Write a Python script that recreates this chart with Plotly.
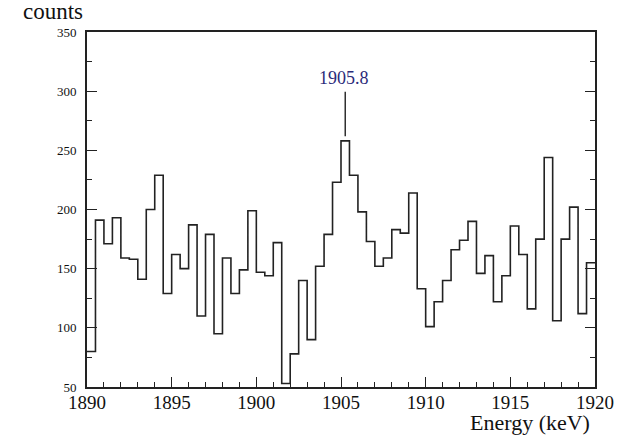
import numpy as np
import plotly.graph_objects as go

# Spectrum: 0.5 keV bins from 1890 to 1920 keV
bin_start = 1890.0
bin_width = 0.5
counts = [
    80, 191, 171, 193, 159, 158, 141, 200, 229, 129,
    162, 150, 187, 110, 179, 95, 159, 129, 149, 199,
    147, 144, 172, 53, 78, 140, 90, 152, 179, 223,
    258, 229, 198, 173, 152, 159, 183, 180, 214, 133,
    101, 122, 140, 166, 174, 190, 146, 161, 122, 144,
    186, 162, 116, 175, 244, 106, 175, 202, 112, 155,
]
peak_label = "1905.8"
x_range = [1890, 1920]
y_range = [50, 350]
x_ticks = [1890, 1895, 1900, 1905, 1910, 1915, 1920]
y_ticks = [50, 100, 150, 200, 250, 300, 350]

edges = bin_start + bin_width * np.arange(len(counts) + 1)
step_y = counts + [counts[-1]]

serif = "Liberation Serif"
ink = "#222222"

fig = go.Figure()
fig.add_trace(go.Scatter(
    x=edges, y=step_y, mode="lines",
    line=dict(shape="hv", color=ink, width=1.6),
    hoverinfo="skip", showlegend=False,
))

# Marker line above the peak bin
peak_i = int(np.argmax(counts))
peak_x = edges[peak_i] + bin_width / 2
fig.add_trace(go.Scatter(
    x=[peak_x, peak_x], y=[counts[peak_i] + 4, 299.5],
    mode="lines", line=dict(color=ink, width=1.4),
    hoverinfo="skip", showlegend=False,
))

fig.add_annotation(
    x=peak_x, y=301, xref="x", yref="y", text=peak_label,
    showarrow=False, yanchor="bottom", xshift=-1,
    font=dict(family=serif, size=18, color="#2b2b7a"),
)
fig.add_annotation(
    x=-0.004, y=1, xref="paper", yref="paper", text="counts",
    showarrow=False, xanchor="right", yanchor="bottom", yshift=6,
    font=dict(family=serif, size=23, color="#111111"),
)
fig.add_annotation(
    x=1, y=0, xref="paper", yref="paper", text="Energy (keV)",
    showarrow=False, xanchor="right", yanchor="top", xshift=-3, yshift=-21,
    font=dict(family=serif, size=22, color="#111111"),
)

fig.update_layout(
    width=626, height=435,
    margin=dict(l=87, r=24, t=32, b=48),
    paper_bgcolor="white", plot_bgcolor="white",
    xaxis=dict(
        range=x_range, tickvals=x_ticks, ticks="inside", ticklen=10,
        tickwidth=1.4, tickcolor=ink, showgrid=False, zeroline=False,
        showline=True, linecolor=ink, linewidth=1.6, mirror=True,
        minor=dict(dtick=1, ticks="inside", ticklen=5, tickwidth=1.2,
                   tickcolor=ink, showgrid=False),
        tickfont=dict(family=serif, size=19, color="#111111"),
        ticklabelstandoff=-3,
    ),
    yaxis=dict(
        range=y_range, tickvals=y_ticks, ticks="inside", ticklen=10,
        tickwidth=1.4, tickcolor=ink, showgrid=False, zeroline=False,
        showline=True, linecolor=ink, linewidth=1.6, mirror="ticks",
        minor=dict(dtick=25, ticks="inside", ticklen=5, tickwidth=1.2,
                   tickcolor=ink, showgrid=False),
        tickfont=dict(family=serif, size=13, color="#111111"),
        ticklabelstandoff=6,
    ),
)

fig.write_html("out.html")
